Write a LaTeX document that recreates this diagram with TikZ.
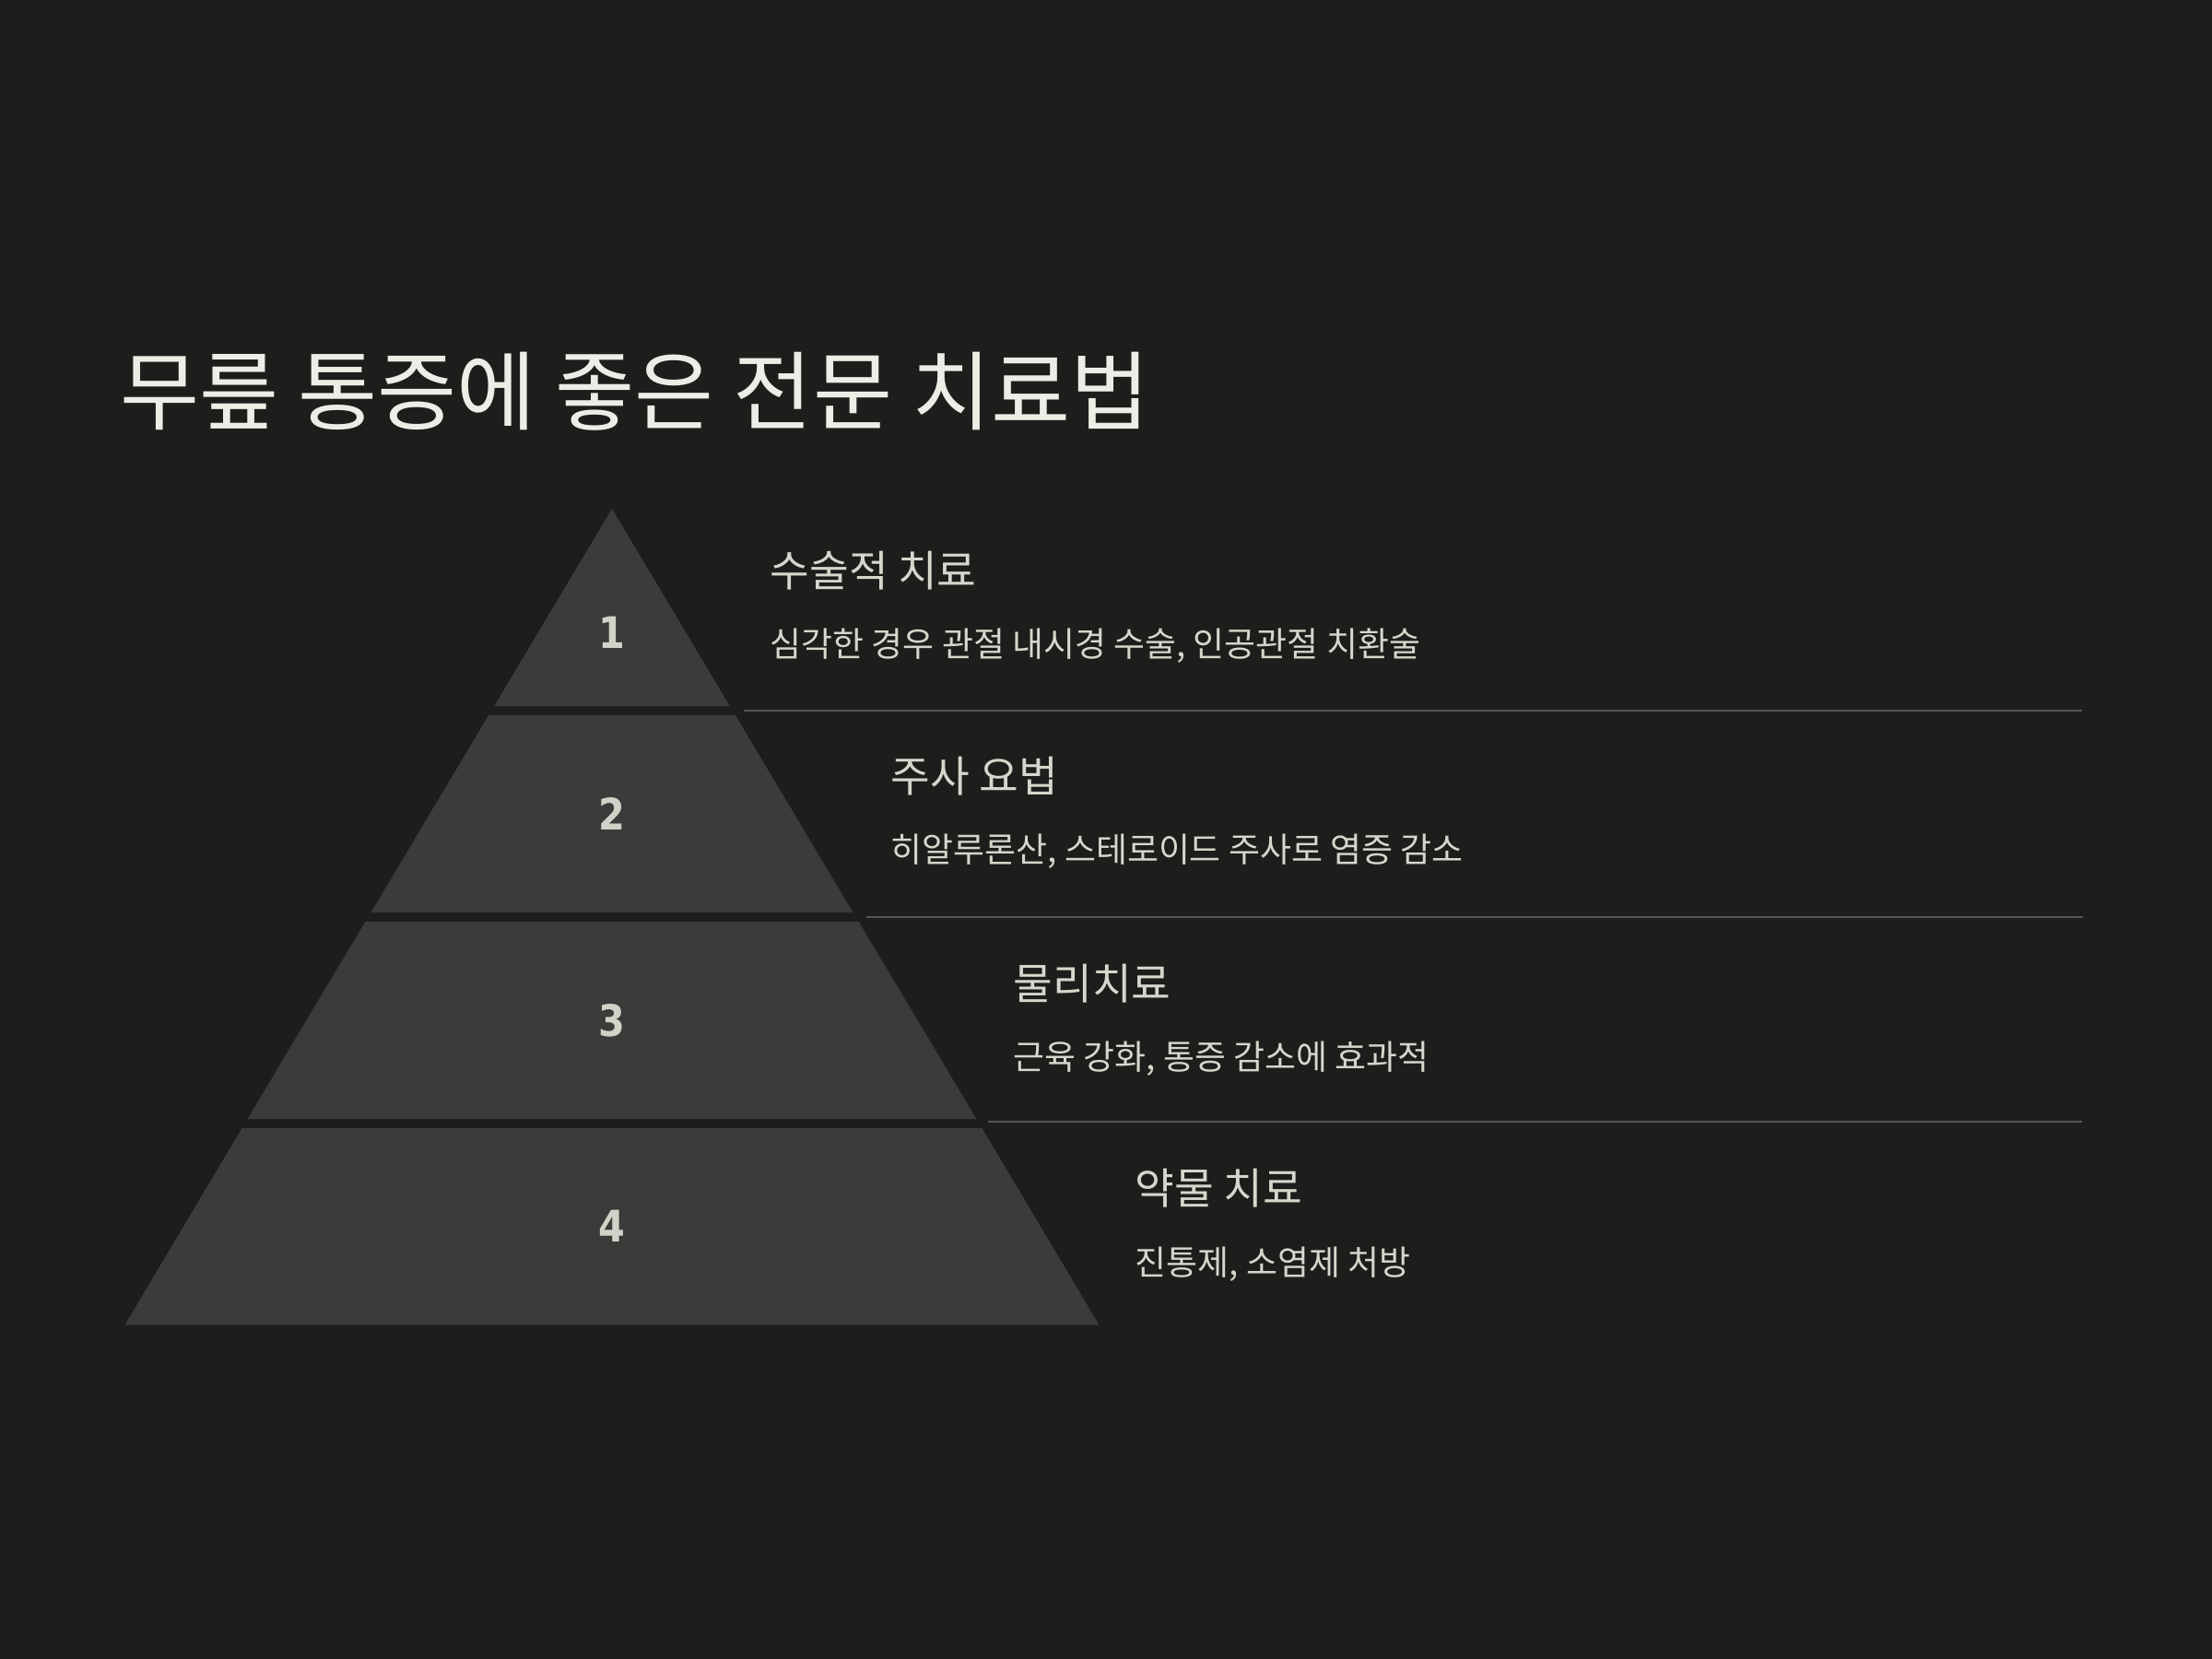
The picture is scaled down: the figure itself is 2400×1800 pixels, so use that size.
\documentclass[tikz,border=0pt]{standalone}
\usepackage{fontspec}
\setmainfont{Noto Sans CJK KR}
\newfontfamily\numfont{DejaVu Sans}[FakeStretch=0.88]
\usepackage{tikz}
\usetikzlibrary{positioning}
\definecolor{bgdark}{HTML}{1D1D1B}
\definecolor{tiergray}{HTML}{3B3B39}
\definecolor{titlewhite}{HTML}{EDEDE6}
\definecolor{textgray}{HTML}{D6D6CC}
\definecolor{numgray}{HTML}{D2D2C8}
\definecolor{linegray}{HTML}{555553}
\tikzset{
  tier/.style={fill=tiergray, draw=none},
  tiernum/.style={
    font=\numfont\bfseries\fontsize{13.4}{15}\selectfont,
    text=numgray, inner sep=0pt
  },
  titletext/.style={
    anchor=west, inner sep=0pt, text=titlewhite,
    font=\fontsize{26.6}{30}\selectfont
  },
  tierhead/.style={
    anchor=west, inner sep=0pt, text=textgray,
    font=\fontsize{13.2}{16}\selectfont
  },
  tiertext/.style={
    anchor=west, inner sep=0pt, text=textgray,
    font=\fontsize{10.5}{12}\selectfont
  },
  sepline/.style={draw=linegray, line width=0.6pt}
}
\begin{document}
\begin{tikzpicture}[x=0.01cm, y=-0.01cm]
    \fill[bgdark] (0,0) rectangle (2400,1800);
    \node[titletext] (title) at (130,424.5) {무릎 통증에 좋은 전문 치료법};

    % pyramid, top to bottom
    \fill[tier] (664,552) -- (791.8,766) -- (536.2,766) -- cycle;
    \fill[tier] (530.2,776) -- (797.8,776) -- (925.6,990) -- (402.4,990) -- cycle;
    \fill[tier] (396.4,1000) -- (931.6,1000) -- (1059.4,1214) -- (268.6,1214) -- cycle;
    \fill[tier] (262.6,1224) -- (1065.4,1224) -- (1192.5,1437.5) -- (135.5,1437.5) -- cycle;

    \node[tiernum] (num1) at (664,686) {1};
    \node[tiernum] (num2) at (664,883) {2};
    \node[tiernum] (num3) at (664,1107) {3};
    \node[tiernum] (num4) at (664,1330) {4};

    \node[tierhead] (head1) at (835,619) {수술적 치료};
    \node[tiertext] (desc1) at (835,701) {심각한 경우 관절 내시경 수술, 인공관절 치환술};
    \node[tierhead] (head2) at (966,842.5) {주사 요법};
    \node[tiertext] (desc2) at (966,924) {히알루론산, 스테로이드 주사로 염증 감소};
    \node[tierhead] (head3) at (1099,1067) {물리치료};
    \node[tiertext] (desc3) at (1099,1149) {근육 강화, 통증 감소에 효과적};
    \node[tierhead] (head4) at (1231,1289) {약물 치료};
    \node[tiertext] (desc4) at (1231,1372) {진통제, 소염제 처방};

    \draw[sepline] (807,771) -- (2259,771);
    \draw[sepline] (940,995) -- (2260,995);
    \draw[sepline] (1072,1217) -- (2259,1217);
\end{tikzpicture}
\end{document}
